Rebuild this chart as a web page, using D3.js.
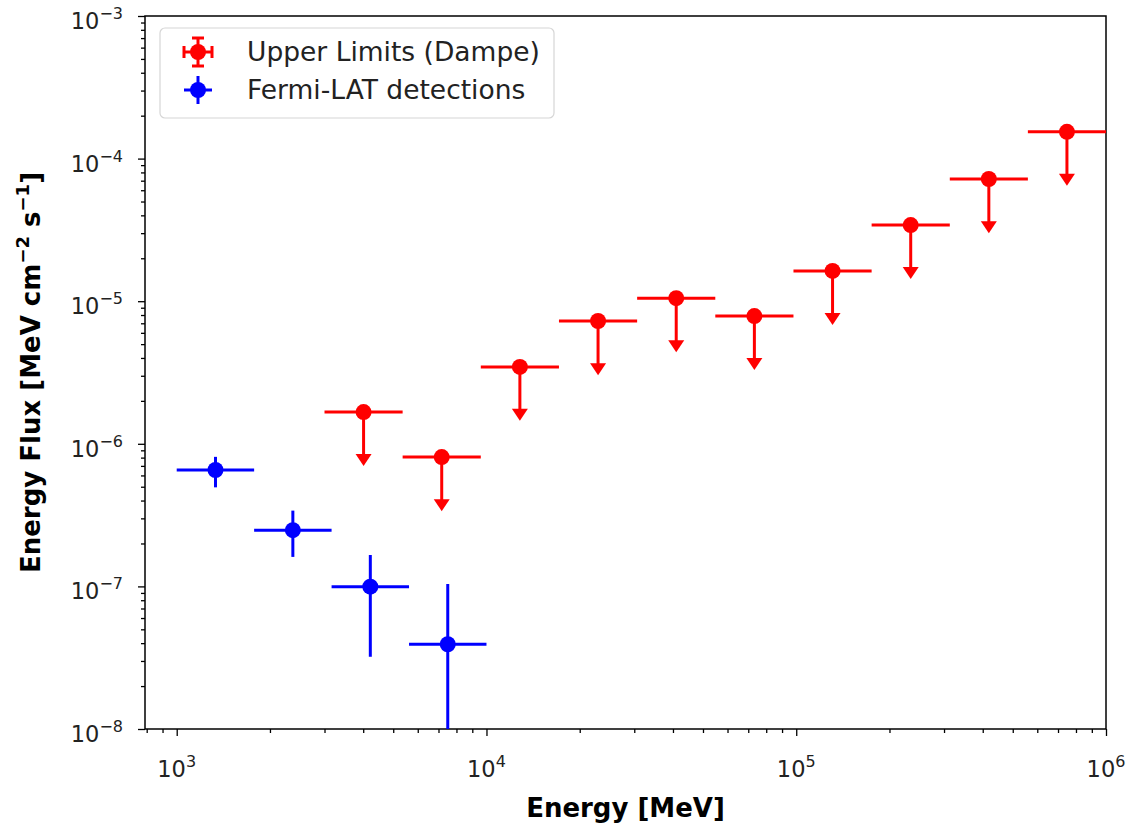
<!DOCTYPE html>
<html>
<head>
<meta charset="utf-8">
<script src="https://cdn.jsdelivr.net/npm/d3@7"></script>
<style>
  body { margin: 0; background: #fff; }
  svg { font-family: "DejaVu Sans", sans-serif; }
</style>
</head>
<body>
<div class="chart"></div>
<script>
// Dampe upper limits (bin centre, bin edges, limit value, arrow end)
const dampeE    = [4011, 7170, 12819, 22920, 40978, 73263, 130990, 234180, 418580, 748010]
const dampeElo  = [3000, 5362, 9587, 17140, 30646, 54790, 97962, 175140, 313130, 559500]
const dampeEhi  = [5362, 9587, 17140, 30646, 54790, 97962, 175140, 313130, 559500, 1000000]
const dampeFlux = [1.67e-6, 8.07e-7, 3.46e-6, 7.26e-6, 1.05e-5, 7.87e-6, 1.63e-5, 3.42e-5, 7.19e-5, 1.54e-4]
const dampeArrow = [6.98e-7, 3.37e-7, 1.45e-6, 3.03e-6, 4.39e-6, 3.29e-6, 6.81e-6, 1.43e-5, 3.0e-5, 6.44e-5]

// Fermi-LAT detections
const fermiE    = [1334, 2371, 4217, 7499]
const fermiElo  = [1000, 1778, 3162, 5623]
const fermiEhi  = [1778, 3162, 5623, 10000]
const fermiFlux = [6.55e-7, 2.48e-7, 9.95e-8, 3.93e-8]
const fermiFhi  = [8.1e-7, 3.4e-7, 1.66e-7, 1.04e-7]
const fermiFlo  = [4.95e-7, 1.61e-7, 3.21e-8, 1e-9]

const xMajor = [3, 4, 5, 6]
const yMajor = [-8, -7, -6, -5, -4, -3]

const margin = ({top: 16, right: 40, bottom: 100, left: 145})
const width = 1106 - margin.left
const height = 729 - margin.top

const svg = d3.select('.chart').append('svg')
    .attr("width", 1146)
    .attr("height", 829)

const g = svg.append("g")
    .attr("transform", `translate(${margin.left},${margin.top})`)

const xScale = d3.scaleLog().domain([790, 1e6]).range([0, width])
const yScale = d3.scaleLog().domain([1e-8, 1e-3]).range([height, 0])

// minor tick values
const xMinor = []
for (let p = 2; p <= 5; p++) for (let m = 2; m <= 9; m++) {
    const v = m * Math.pow(10, p)
    if (v >= 790 && v <= 1e6) xMinor.push(v)
}
const yMinor = []
for (let p = -8; p < -3; p++) for (let m = 2; m <= 9; m++) yMinor.push(m * Math.pow(10, p))

// AXES
const axisStyle = sel => {
    sel.select(".domain").remove()
    sel.selectAll("line").attr("stroke", "#000").attr("stroke-width", 1.3)
    sel.selectAll("text").remove()
}

g.append("g").attr("transform", `translate(0,${height})`)
    .call(d3.axisBottom(xScale).tickValues(xMajor.map(p => Math.pow(10, p))).tickSize(7)).call(axisStyle)
g.append("g").attr("transform", `translate(0,${height})`)
    .call(d3.axisBottom(xScale).tickValues(xMinor).tickSize(4)).call(axisStyle)
g.append("g")
    .call(d3.axisLeft(yScale).tickValues(yMajor.map(p => Math.pow(10, p))).tickSize(7)).call(axisStyle)
g.append("g")
    .call(d3.axisLeft(yScale).tickValues(yMinor).tickSize(4)).call(axisStyle)

// tick labels with superscripts
const xl = g.append("g").selectAll("text").data(xMajor).join("text")
    .attr("x", d => xScale(Math.pow(10, d)))
    .attr("y", height + 48)
    .attr("text-anchor", "middle")
    .attr("font-size", 22.5)
    .attr("fill", "#222")
xl.append("tspan").text("10")
xl.append("tspan").attr("font-size", 16).attr("dy", -10).text(d => d)

const yl = g.append("g").selectAll("text").data(yMajor).join("text")
    .attr("x", -22)
    .attr("y", d => yScale(Math.pow(10, d)) + 13)
    .attr("text-anchor", "end")
    .attr("font-size", 22.5)
    .attr("fill", "#222")
yl.append("tspan").text("10")
yl.append("tspan").attr("font-size", 16).attr("dy", -10).text(d => "\u2212" + (-d))

// frame
g.append("rect")
    .attr("width", width).attr("height", height)
    .attr("fill", "none").attr("stroke", "#000").attr("stroke-width", 1.5)

// axis labels
svg.append("text")
    .attr("x", margin.left + width / 2).attr("y", 817)
    .attr("text-anchor", "middle")
    .attr("font-size", 26).attr("font-weight", "bold")
    .text("Energy [MeV]")

const ylab = svg.append("text")
    .attr("transform", `translate(40,${margin.top + height / 2}) rotate(-90)`)
    .attr("text-anchor", "middle")
    .attr("font-size", 26).attr("font-weight", "bold")
ylab.append("tspan").text("Energy Flux [MeV cm")
ylab.append("tspan").attr("font-size", 18).attr("dy", -11).text("\u22122")
ylab.append("tspan").attr("dy", 11).text(" s")
ylab.append("tspan").attr("font-size", 18).attr("dy", -11).text("\u22121")
ylab.append("tspan").attr("dy", 11).text("]")

// DATA (clip in the plot group's own coordinates)
g.append("clipPath").attr("id", "clip")
    .append("rect").attr("x", 0).attr("y", 0).attr("width", width).attr("height", height)

const plot = g.append("g").attr("clip-path", "url(#clip)")

const red = "#ff0000", blue = "#0000ff"

// Dampe upper limits
const dampe = plot.append("g").selectAll("g")
    .data(dampeE.map((e, i) => ({e, lo: dampeElo[i], hi: dampeEhi[i], f: dampeFlux[i], a: dampeArrow[i]})))
    .join("g")
dampe.append("line")
    .attr("x1", d => xScale(d.lo)).attr("x2", d => xScale(d.hi))
    .attr("y1", d => yScale(d.f)).attr("y2", d => yScale(d.f))
    .attr("stroke", red).attr("stroke-width", 3)
dampe.append("line")
    .attr("x1", d => xScale(d.e)).attr("x2", d => xScale(d.e))
    .attr("y1", d => yScale(d.f)).attr("y2", d => yScale(d.a) - 6)
    .attr("stroke", red).attr("stroke-width", 3)
dampe.append("path")
    .attr("d", d => {
        const x = xScale(d.e), y = yScale(d.a)
        return `M${x - 8},${y - 12}L${x + 8},${y - 12}L${x},${y}Z`
    })
    .attr("fill", red)
dampe.append("circle")
    .attr("cx", d => xScale(d.e)).attr("cy", d => yScale(d.f)).attr("r", 8)
    .attr("fill", red)

// Fermi-LAT detections
const fermi = plot.append("g").selectAll("g")
    .data(fermiE.map((e, i) => ({e, lo: fermiElo[i], hi: fermiEhi[i], f: fermiFlux[i], flo: fermiFlo[i], fhi: fermiFhi[i]})))
    .join("g")
fermi.append("line")
    .attr("x1", d => xScale(d.lo)).attr("x2", d => xScale(d.hi))
    .attr("y1", d => yScale(d.f)).attr("y2", d => yScale(d.f))
    .attr("stroke", blue).attr("stroke-width", 3)
fermi.append("line")
    .attr("x1", d => xScale(d.e)).attr("x2", d => xScale(d.e))
    .attr("y1", d => yScale(d.fhi)).attr("y2", d => yScale(d.flo))
    .attr("stroke", blue).attr("stroke-width", 3)
fermi.append("circle")
    .attr("cx", d => xScale(d.e)).attr("cy", d => yScale(d.f)).attr("r", 8)
    .attr("fill", blue)

// LEGEND
const legend = svg.append("g")
legend.append("rect")
    .attr("x", 160).attr("y", 28).attr("width", 394).attr("height", 90).attr("rx", 5)
    .attr("fill", "#fff").attr("fill-opacity", 0.8)
    .attr("stroke", "#d6d6d6").attr("stroke-width", 1.2)

const lr = legend.append("g").attr("transform", "translate(198,52)")
lr.append("line").attr("x1", -14).attr("x2", 14).attr("stroke", red).attr("stroke-width", 3)
lr.append("line").attr("y1", -14).attr("y2", 14).attr("stroke", red).attr("stroke-width", 3)
lr.append("line").attr("x1", -14).attr("x2", -14).attr("y1", -6).attr("y2", 6).attr("stroke", red).attr("stroke-width", 3)
lr.append("line").attr("x1", 14).attr("x2", 14).attr("y1", -6).attr("y2", 6).attr("stroke", red).attr("stroke-width", 3)
lr.append("line").attr("x1", -6).attr("x2", 6).attr("y1", -14).attr("y2", -14).attr("stroke", red).attr("stroke-width", 3)
lr.append("line").attr("x1", -6).attr("x2", 6).attr("y1", 14).attr("y2", 14).attr("stroke", red).attr("stroke-width", 3)
lr.append("circle").attr("r", 8).attr("fill", red)

const lb = legend.append("g").attr("transform", "translate(198,90)")
lb.append("line").attr("x1", -14).attr("x2", 14).attr("stroke", blue).attr("stroke-width", 3)
lb.append("line").attr("y1", -14).attr("y2", 14).attr("stroke", blue).attr("stroke-width", 3)
lb.append("circle").attr("r", 8).attr("fill", blue)

legend.append("text").attr("x", 247).attr("y", 61).attr("font-size", 26.5).attr("fill", "#222")
    .text("Upper Limits (Dampe)")
legend.append("text").attr("x", 247).attr("y", 99).attr("font-size", 26.5).attr("fill", "#222")
    .text("Fermi-LAT detections")
</script>
</body>
</html>
